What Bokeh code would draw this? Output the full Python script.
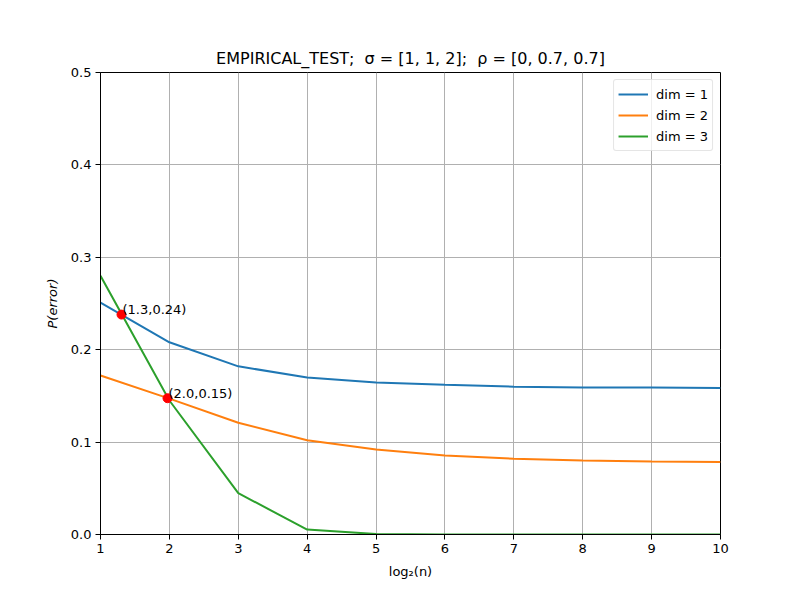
from bokeh.plotting import figure
from bokeh.models import Range1d, FixedTicker, Legend, LegendItem, ColumnDataSource
from bokeh.embed import file_html
from bokeh.resources import INLINE
from bokeh.core.properties import value

x = [1, 2, 3, 4, 5, 6, 7, 8, 9, 10]
dim1 = [0.251, 0.208, 0.182, 0.170, 0.1645, 0.162, 0.160, 0.159, 0.159, 0.1585]
dim2 = [0.172, 0.147, 0.121, 0.102, 0.092, 0.0855, 0.082, 0.080, 0.079, 0.0785]
dim3 = [0.280, 0.145, 0.0447, 0.0054, 0.0005, 0.0, 0.0, 0.0, 0.0, 0.0]
pts_x = [1.305, 1.973]
pts_y = [0.238, 0.1475]
pts_labels = ["(1.3,0.24)", "(2.0,0.15)"]
series_labels = ["dim = 1", "dim = 2", "dim = 3"]
colors = ["#1f77b4", "#ff7f0e", "#2ca02c"]
x_ticks = [1, 2, 3, 4, 5, 6, 7, 8, 9, 10]
y_ticks = [0.0, 0.1, 0.2, 0.3, 0.4, 0.5]

FONT = "DejaVu Sans"
NB = "\u00a0"

p = figure(width=800, height=600, output_backend="svg", toolbar_location=None,
           x_range=Range1d(1, 10), y_range=Range1d(0, 0.5),
           min_border_left=100, min_border_right=80, min_border_top=72, min_border_bottom=66,
           title=f"EMPIRICAL_TEST;{NB} σ = [1, 1, 2];{NB} ρ = [0, 0.7, 0.7]")
p.background_fill_color = "white"
p.border_fill_color = "white"
p.outline_line_color = "black"
p.outline_line_width = 1

p.title.text_font = FONT
p.title.text_font_size = "16px"
p.title.text_font_style = "normal"
p.title.align = "center"
p.title.text_color = "black"
p.title.standoff = 9

for ax in (p.xaxis[0], p.yaxis[0]):
    ax.major_tick_out = 5
    ax.major_tick_in = 0
    ax.minor_tick_out = 0
    ax.minor_tick_in = 0
    ax.major_label_text_font = FONT
    ax.major_label_text_font_size = "13px"
    ax.major_label_text_color = "black"
    ax.axis_label_text_font = FONT
    ax.axis_label_text_font_size = "13px"
    ax.axis_label_text_color = "black"
    ax.axis_line_color = "black"
    ax.major_tick_line_color = "black"

p.xaxis.ticker = FixedTicker(ticks=x_ticks)
p.yaxis.ticker = FixedTicker(ticks=y_ticks)
p.yaxis.major_label_overrides = {t: f"{t:.1f}" for t in y_ticks}
p.xaxis.axis_label = "log₂(n)"
p.xaxis.axis_label_text_font_style = "normal"
p.xaxis.axis_label_standoff = 8
p.yaxis.axis_label = "P(error)"
p.yaxis.axis_label_text_font_style = "italic"
p.yaxis.axis_label_standoff = 8
p.xaxis.major_label_standoff = 4
p.yaxis.major_label_standoff = 4

p.xgrid.grid_line_color = "#b0b0b0"
p.ygrid.grid_line_color = "#b0b0b0"
p.xgrid.grid_line_width = 1
p.ygrid.grid_line_width = 1

items = []
for ys, lab, c in zip([dim1, dim2, dim3], series_labels, colors):
    r = p.line(x, ys, line_color=c, line_width=2)
    items.append(LegendItem(label=lab, renderers=[r]))

p.scatter(pts_x, pts_y, size=9, color="red", line_color="red")
src = ColumnDataSource(dict(x=pts_x, y=pts_y, t=pts_labels))
p.text(x="x", y="y", text="t", source=src, text_font=value(FONT), text_font_size="13px",
       text_color="black", text_baseline="middle", text_align="left", x_offset=1, y_offset=-5)

legend = Legend(items=items, location="top_right")
legend.label_text_font = FONT
legend.label_text_font_size = "13px"
legend.label_text_color = "black"
legend.border_line_color = "#cccccc"
legend.border_line_width = 1
legend.border_radius = 3
legend.background_fill_alpha = 0.8
legend.margin = 7
legend.padding = 4
legend.spacing = 1
legend.glyph_width = 30
legend.label_standoff = 8
legend.label_height = 20
legend.glyph_height = 20
p.add_layout(legend)

open("out.html", "w").write(file_html(p, INLINE))
